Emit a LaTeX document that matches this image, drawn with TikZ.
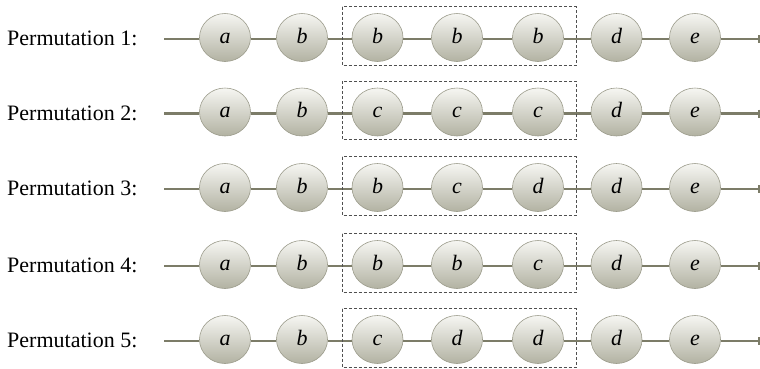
\documentclass[tikz,border=0pt]{standalone}
\usepackage{fontspec}
\setmainfont{Liberation Serif}
\usetikzlibrary{arrows.meta,calc,shapes.geometric}
\definecolor{linec}{HTML}{7C7C68}
\definecolor{ballrim}{HTML}{9C9C8C}
\definecolor{balltop}{HTML}{F6F6F2}
\definecolor{ballbot}{HTML}{B2B2A2}
\definecolor{boxc}{HTML}{505050}
\tikzset{
  ball/.style={ellipse, minimum width=51pt, minimum height=48pt, inner sep=0pt,
    text height=12pt, text depth=1pt,
    draw=ballrim, line width=0.6pt, top color=balltop, bottom color=ballbot,
    font=\fontsize{22}{25}\selectfont\itshape},
  chain/.style={draw=linec, line width=2.8pt},
  permlabel/.style={anchor=base west, inner sep=0pt, font=\fontsize{22}{25}\selectfont},
  window/.style={draw=boxc, line width=0.8pt, dash pattern=on 3pt off 2pt}
}
\begin{document}
\begin{tikzpicture}[x=1pt,y=-1pt]
\useasboundingbox (0,0) rectangle (760,368);
\foreach \yy/\i/\la/\lb/\lc/\ld/\le/\lf/\lg in {
  39/1/a/b/b/b/b/d/e,
  113.5/2/a/b/c/c/c/d/e,
  189/3/a/b/b/c/d/d/e,
  266/4/a/b/b/b/c/d/e,
  341/5/a/b/c/d/d/d/e}{
  \node[permlabel] (lab\i) at (7,\yy+6.5) {Permutation \i:};
  \coordinate (s\i) at (164,\yy);
  \coordinate (t\i) at (760,\yy);
  \node[ball] (n\i-1) at (225,\yy-1.5) {\la};
  \node[ball] (n\i-2) at (302,\yy-1.5) {\lb};
  \node[ball] (n\i-3) at (377.5,\yy-1.5) {\lc};
  \node[ball] (n\i-4) at (457,\yy-1.5) {\ld};
  \node[ball] (n\i-5) at (538,\yy-1.5) {\le};
  \node[ball] (n\i-6) at (616.5,\yy-1.5) {\lf};
  \node[ball] (n\i-7) at (695,\yy-1.5) {\lg};
  \draw[chain] (s\i) -- (n\i-1.west|-s\i);
  \foreach \p/\q in {1/2,2/3,3/4,4/5,5/6,6/7}{
    \draw[chain] (n\i-\p.east|-s\i) -- (n\i-\q.west|-s\i);
  }
  \draw[chain,-{Bar[width=8pt,line width=1.6pt]}] (n\i-7.east|-s\i) -- (t\i);
  \draw[window] (342,\yy-32.5) rectangle (576,\yy+26);
}
\end{tikzpicture}
\end{document}
